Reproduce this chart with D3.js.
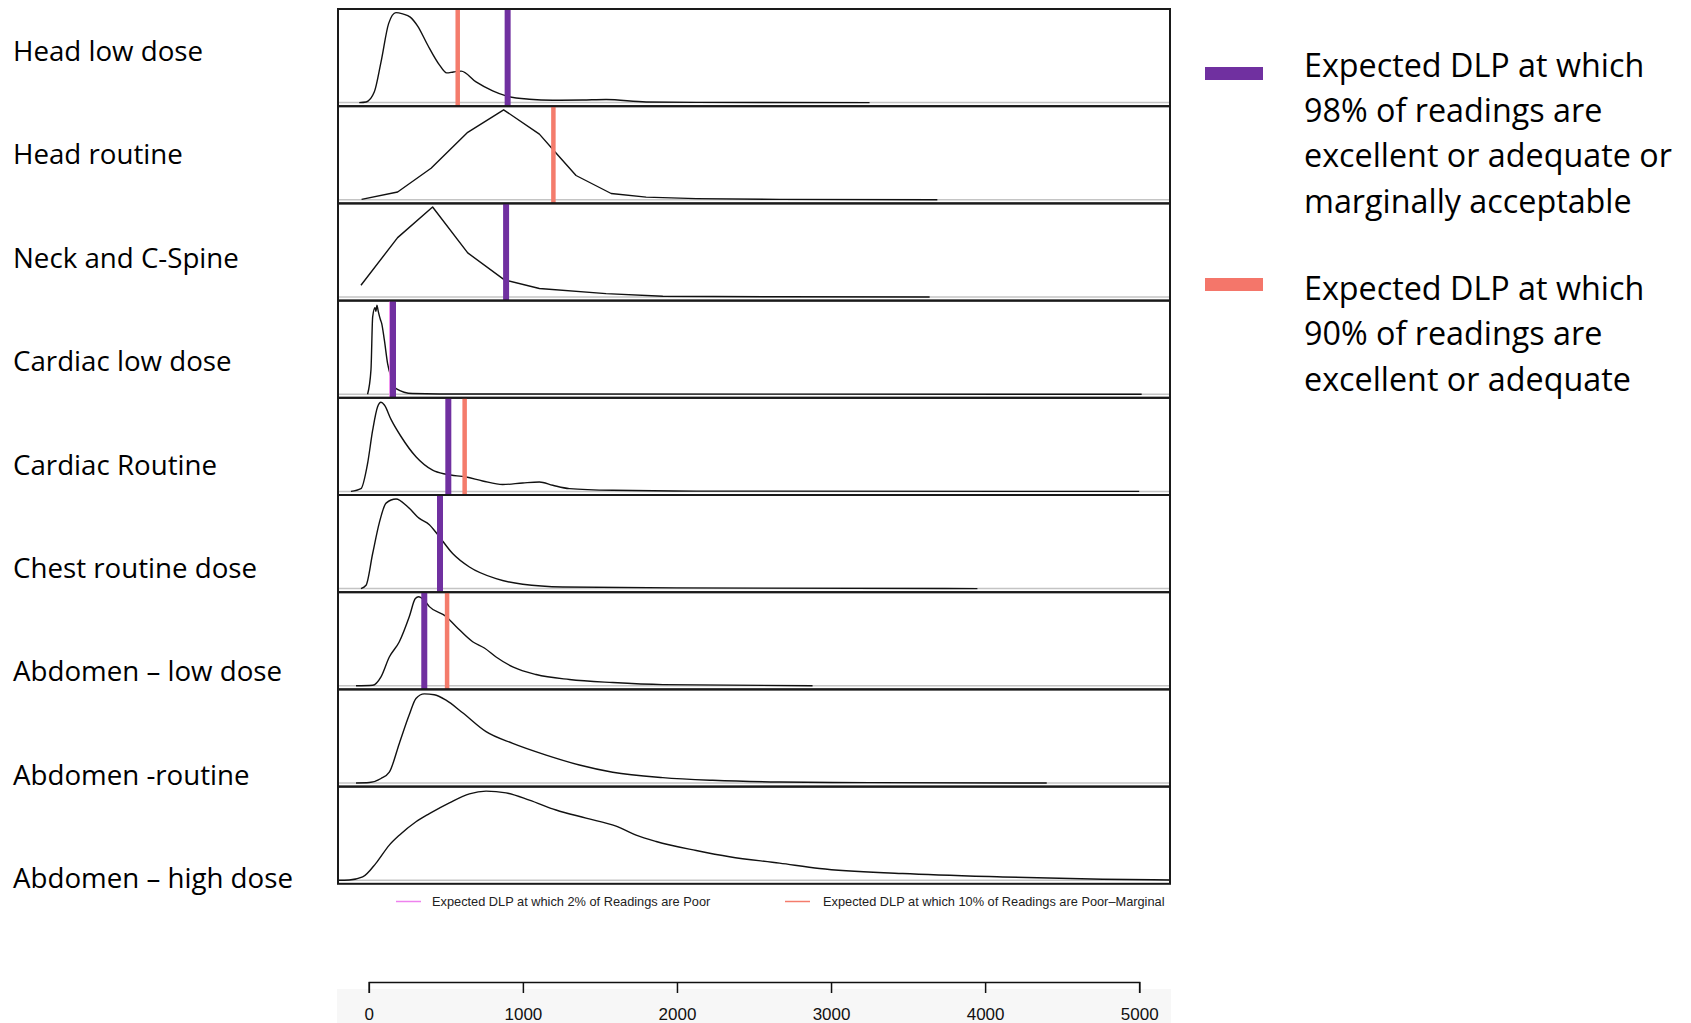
<!DOCTYPE html>
<html>
<head>
<meta charset="utf-8">
<script src="https://cdn.jsdelivr.net/npm/d3@7"></script>
<style>
  body { margin: 0; background: #fff; }
  svg { display: block; }
</style>
</head>
<body>
<svg id="chart" width="1691" height="1023"></svg>
<script>
// protocols, top to bottom
const categories = ["Head low dose", "Head routine", "Neck and C-Spine", "Cardiac low dose",
  "Cardiac Routine", "Chest routine dose", "Abdomen \u2013 low dose", "Abdomen -routine", "Abdomen \u2013 high dose"];

// density curves, [DLP, density scaled to peak = 1]
const headLowDose = [[-62,0],[-18,0.007],[36,0.12],[79,0.45],[129,0.88],[176,1],[220,0.985],[269,0.95],
  [317,0.85],[382,0.64],[458,0.42],[505,0.33],[549,0.34],[599,0.35],[696,0.23],[804,0.13],[891,0.074],
  [1042,0.037],[1194,0.026],[1388,0.029],[1540,0.034],[1800,0.007],[2125,0.003],[3250,0]];
const headRoutine = [[-47,0.005],[187,0.087],[404,0.35],[642,0.75],[875,1],[1107,0.73],[1215,0.52],
  [1345,0.27],[1573,0.07],[1800,0.03],[2125,0.013],[2666,0.005],[3690,0]];
const neckCSpine = [[-51,0.13],[187,0.66],[414,1],[642,0.49],[880,0.19],[1107,0.094],[1540,0.038],
  [1908,0.008],[2666,0.002],[3640,0]];
const cardiacLowDose = [[-8,0],[14,0.27],[25,0.86],[40,0.96],[46,0.92],[53,0.99],[58,0.95],[64,0.9],[75,0.83],
  [83,0.79],[101,0.6],[122,0.34],[144,0.19],[177,0.063],[284,0.007],[458,0.002],[5016,0]];
const cardiacRoutine = [[-116,0],[-51,0.03],[-8,0.31],[25,0.68],[57,0.94],[79,0.99],[101,0.96],[144,0.8],
  [209,0.61],[306,0.385],[414,0.236],[501,0.19],[631,0.16],[739,0.116],[869,0.076],[999,0.094],[1107,0.105],
  [1194,0.068],[1302,0.031],[1583,0.012],[2125,0.003],[5000,0]];
const chestRoutine = [[-51,0],[-18,0.037],[25,0.39],[68,0.73],[112,0.95],[177,0.995],[252,0.91],[328,0.78],
  [393,0.71],[447,0.6],[544,0.39],[653,0.24],[826,0.11],[999,0.048],[1259,0.018],[2000,0.008],[3950,0]];
const abdomenLowDose = [[-83,0],[25,0.006],[79,0.1],[133,0.32],[198,0.49],[263,0.77],[302,0.97],[323,0.99],
  [360,0.95],[393,0.88],[501,0.77],[566,0.66],[674,0.49],[750,0.42],[826,0.32],[934,0.21],[1086,0.125],
  [1302,0.07],[1583,0.036],[1908,0.013],[2880,0]];
const abdomenRoutine = [[-83,0],[3,0.005],[79,0.05],[133,0.12],[198,0.44],[263,0.76],[306,0.94],[360,0.99],
  [425,0.98],[501,0.92],[609,0.78],[761,0.57],[934,0.44],[1151,0.31],[1367,0.2],[1583,0.12],[1908,0.06],
  [2232,0.03],[2666,0.011],[3250,0.004],[4400,0]];
const abdomenHighDose = [[-203,0],[-127,0.003],[-40,0.036],[47,0.19],[133,0.39],[198,0.5],[306,0.65],
  [393,0.74],[523,0.86],[653,0.96],[761,0.99],[891,0.97],[1042,0.89],[1215,0.78],[1410,0.69],[1605,0.6],
  [1735,0.5],[1865,0.43],[2125,0.33],[2341,0.26],[2666,0.19],[2925,0.13],[3464,0.074],[4114,0.036],
  [4763,0.01],[5198,0.003]];
const densities = [headLowDose, headRoutine, neckCSpine, cardiacLowDose, cardiacRoutine,
  chestRoutine, abdomenLowDose, abdomenRoutine, abdomenHighDose];

// reference DLP lines per protocol (null = none)
const poor2Lines = [901, null, 891, 140, 516, 462, 360, null, null];
const accept98Lines = [901, null, 891, 157, 516, 462, 360, null, null];
const adequate90Lines = [577, 1198, null, null, 622, null, 508, null, null];

const tickValues = [0, 1000, 2000, 3000, 4000, 5000];
const legend98 = ["Expected DLP at which", "98% of readings are", "excellent or adequate or", "marginally acceptable"];
const legend90 = ["Expected DLP at which", "90% of readings are", "excellent or adequate"];
const plotLegend = ["Expected DLP at which 2% of Readings are Poor",
  "Expected DLP at which 10% of Readings are Poor\u2013Marginal"];

const purple = "#7030a0", salmon = "#f47c6c", violet = "#ee82ee";

const svg = d3.select("#chart");
const panelLeft = 338, panelRight = 1170, panelTop = 9, panelH = 97.2;

const x = d3.scaleLinear().domain([-200, 5200]).range([panelLeft, panelRight]);

function fitWidth(sel, target) {
  const w = d3.max(sel.nodes(), n => n.getComputedTextLength());
  const fs = parseFloat(sel.attr("font-size"));
  sel.attr("font-size", fs * target / w);
}

// panels
densities.forEach((pts, i) => {
  const top = panelTop + i * panelH, bottom = top + panelH;
  const y = d3.scaleLinear().domain([-0.04, 1.04]).range([bottom, top]);
  const g = svg.append("g").attr("class", "panel");

  g.append("line")
    .attr("x1", panelLeft).attr("x2", panelRight)
    .attr("y1", y(0)).attr("y2", y(0))
    .attr("stroke", "#c4c4c4").attr("stroke-width", 1.5);

  const curve = (i === 1 || i === 2) ? d3.curveLinear : d3.curveMonotoneX;
  g.append("path")
    .datum(pts)
    .attr("fill", "none")
    .attr("stroke", "#111")
    .attr("stroke-width", 1.4)
    .attr("stroke-linejoin", "round")
    .attr("d", d3.line().x(d => x(d[0])).y(d => y(d[1])).curve(curve));

  const vline = (v, color, w) => {
    if (v == null) return;
    g.append("line")
      .attr("x1", x(v)).attr("x2", x(v))
      .attr("y1", top).attr("y2", bottom)
      .attr("stroke", color).attr("stroke-width", w);
  };
  vline(poor2Lines[i], violet, 2.5);
  vline(adequate90Lines[i], salmon, 4.5);
  vline(accept98Lines[i], purple, 6);

  g.append("rect")
    .attr("x", panelLeft).attr("y", top)
    .attr("width", panelRight - panelLeft).attr("height", panelH)
    .attr("fill", "none").attr("stroke", "#1a1a1a").attr("stroke-width", 2);
});

// category labels
const labelY = d3.scalePoint().domain(categories).range([60.7, 888.3]);
const labels = svg.append("g").selectAll("text")
  .data(categories).enter().append("text")
  .attr("x", 13).attr("y", d => labelY(d))
  .attr("font-family", "'Open Sans', sans-serif")
  .attr("font-size", 27)
  .attr("fill", "#000")
  .text(d => d);
fitWidth(labels, 280);

// plot legend under the panels
const plotLegendX = [[396, 421, 432], [785, 810, 823]];
const plotLegendColors = [violet, salmon];
const pl = svg.append("g");
plotLegend.forEach((t, i) => {
  pl.append("line")
    .attr("x1", plotLegendX[i][0]).attr("x2", plotLegendX[i][1])
    .attr("y1", 901.5).attr("y2", 901.5)
    .attr("stroke", plotLegendColors[i]).attr("stroke-width", 1.5);
});
const plTexts = pl.selectAll("text").data(plotLegend).enter().append("text")
  .attr("x", (d, i) => plotLegendX[i][2]).attr("y", 906)
  .attr("font-family", "'Liberation Sans', Arial, sans-serif")
  .attr("font-size", 13)
  .attr("fill", "#222")
  .text(d => d);
fitWidth(plTexts.filter((d, i) => i === 1), 342);
plTexts.filter((d, i) => i === 0).attr("font-size", plTexts.filter((d, i) => i === 1).attr("font-size"));

// x axis
svg.append("rect")
  .attr("x", 337).attr("y", 989)
  .attr("width", 834).attr("height", 40)
  .attr("fill", "#f7f7f7");

const xAxisScale = d3.scaleLinear().domain([0, 5000]).range([x(0), x(5000)]);
const axis = svg.append("g")
  .attr("transform", "translate(0,982)")
  .call(d3.axisBottom(xAxisScale).tickValues(tickValues).tickSize(11).tickSizeOuter(11).tickFormat(d3.format("d")));
axis.select(".domain").attr("stroke", "#111").attr("stroke-width", 1.5);
axis.selectAll(".tick line").attr("stroke", "#111").attr("stroke-width", 1.5);
axis.selectAll(".tick text")
  .attr("y", 0).attr("dy", null)
  .attr("transform", "translate(0,38)")
  .attr("font-family", "'Liberation Sans', Arial, sans-serif")
  .attr("font-size", 17)
  .attr("fill", "#111");

// right-hand legend
const rl = svg.append("g");
rl.append("rect").attr("x", 1205).attr("y", 67).attr("width", 58).attr("height", 13).attr("fill", purple);
rl.append("rect").attr("x", 1205).attr("y", 278).attr("width", 58).attr("height", 13).attr("fill", "#f4766a");
const lineStep = 45.3;
const rlText = rl.selectAll("text")
  .data(legend98.map((t, i) => ({ t, y: 76.7 + i * lineStep }))
    .concat(legend90.map((t, i) => ({ t, y: 300 + i * lineStep }))))
  .enter().append("text")
  .attr("x", 1304).attr("y", d => d.y)
  .attr("font-family", "'Open Sans', sans-serif")
  .attr("font-size", 32)
  .attr("fill", "#000")
  .text(d => d.t);
fitWidth(rlText, 368);
</script>
</body>
</html>
